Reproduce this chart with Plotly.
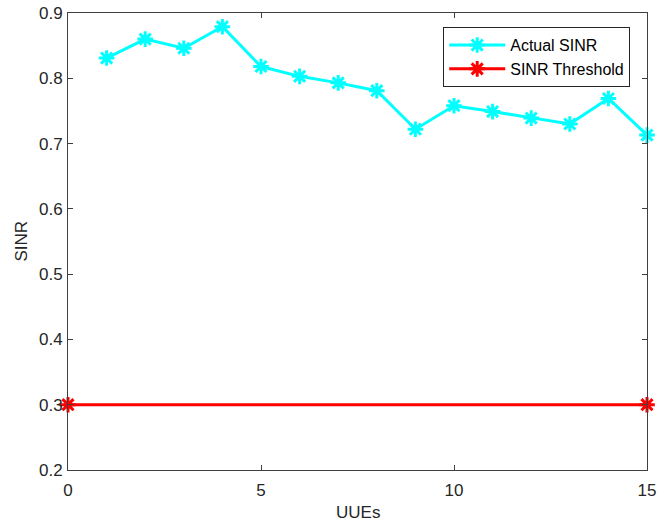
import plotly.graph_objects as go

# UUE index and measured SINR per UUE
uue_ids = list(range(1, 16))
actual_sinr = [0.831, 0.860, 0.846, 0.879, 0.818, 0.803, 0.793, 0.781,
               0.722, 0.758, 0.749, 0.739, 0.730, 0.769, 0.713]

# Threshold line endpoints
threshold_x = [0, 15]
threshold_sinr = [0.3, 0.3]

x_ticks = [0, 5, 10, 15]
y_ticks = [0.2, 0.3, 0.4, 0.5, 0.6, 0.7, 0.8, 0.9]

font_family = "Liberation Sans, Arial, sans-serif"
text_color = "#262626"

fig = go.Figure()
fig.add_trace(go.Scatter(
    x=uue_ids, y=actual_sinr, name="Actual SINR", mode="lines+markers",
    line=dict(color="#00FFFF", width=3),
    marker=dict(symbol="asterisk-open", size=13,
                line=dict(color="#00FFFF", width=3)),
    cliponaxis=False,
))
fig.add_trace(go.Scatter(
    x=threshold_x, y=threshold_sinr, name="SINR Threshold", mode="lines+markers",
    line=dict(color="#FF0000", width=3),
    marker=dict(symbol="asterisk-open", size=13,
                line=dict(color="#FF0000", width=3)),
    cliponaxis=False,
))

axis_common = dict(
    showgrid=False, zeroline=False, showline=True, linecolor="#404040",
    linewidth=1, mirror="ticks", ticks="inside", ticklen=5,
    tickcolor="#404040", tickfont=dict(size=17, color=text_color),
    automargin=False,
)

fig.update_layout(
    width=669, height=522,
    margin=dict(l=68, r=22, t=13, b=52),
    paper_bgcolor="white", plot_bgcolor="white",
    font=dict(family=font_family, size=17, color=text_color),
    xaxis=dict(range=[0, 15], tickvals=x_ticks, ticklabelstandoff=5,
               **axis_common),
    yaxis=dict(range=[0.2, 0.9], tickvals=y_ticks, tickformat=".1f",
               ticklabelstandoff=1, **axis_common),
    legend=dict(x=0.971, y=0.969, xanchor="right", yanchor="top",
                bordercolor="#262626", borderwidth=1, bgcolor="white",
                font=dict(size=16, color="#000000"), itemwidth=56,
                tracegroupgap=0),
    showlegend=True,
    annotations=[
        dict(text="UUEs", xref="paper", yref="paper", x=0.5, y=0,
             xanchor="center", yanchor="middle", yshift=-42,
             showarrow=False, font=dict(size=17, color=text_color)),
        dict(text="SINR", xref="paper", yref="paper", x=0, y=0.5,
             xanchor="center", yanchor="middle", xshift=-47, textangle=-90,
             showarrow=False, font=dict(size=17, color=text_color)),
    ],
)

fig.write_html("out.html")
